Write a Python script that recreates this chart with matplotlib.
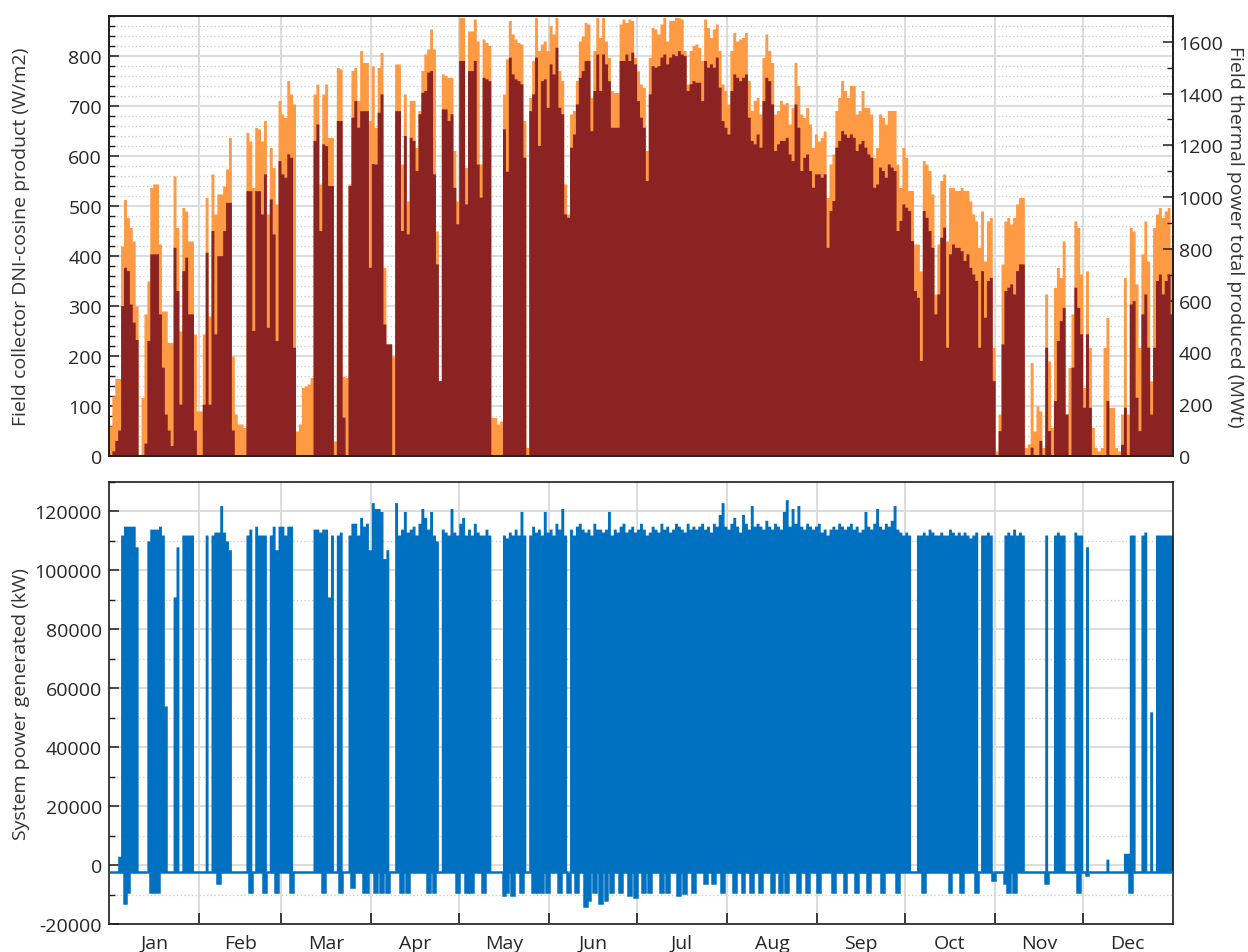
import numpy as np
import matplotlib
matplotlib.use("Agg")
import matplotlib.pyplot as plt
from matplotlib.ticker import MultipleLocator, FixedLocator, NullFormatter, FixedFormatter

plt.rcParams['font.family'] = ['Open Sans', 'DejaVu Sans']
plt.rcParams['axes.unicode_minus'] = False

# ---------------------------------------------------------------- data
months = ['Jan', 'Feb', 'Mar', 'Apr', 'May', 'Jun',
          'Jul', 'Aug', 'Sep', 'Oct', 'Nov', 'Dec']
month_start = [0, 31, 59, 90, 120, 151, 181, 212, 243, 273, 304, 334, 365]

# Daily peak of the field collector DNI-cosine product (W/m2)
dni_peak = [
    60, 120, 155, 155, 420, 513, 477, 457, 430, 300,
    0, 117, 284, 350, 537, 544, 544, 424, 290, 290,
    227, 227, 560, 457, 250, 497, 490, 430, 430, 244,
    90, 90, 244, 517, 280, 564, 484, 524, 524, 540,
    574, 637, 200, 84, 64, 64, 57, 647, 630, 537,
    657, 654, 630, 671, 484, 617, 577, 504, 711, 684,
    677, 751, 724, 704, 50, 64, 137, 140, 144, 157,
    724, 744, 544, 724, 744, 637, 637, 30, 777, 774,
    160, 157, 544, 771, 777, 711, 811, 787, 787, 671,
    780, 657, 777, 807, 377, 224, 224, 200, 784, 784,
    584, 724, 510, 711, 711, 617, 691, 771, 804, 814,
    854, 814, 450, 150, 764, 761, 757, 757, 611, 510,
    877, 877, 577, 850, 850, 874, 830, 584, 834, 827,
    821, 77, 77, 64, 70, 724, 794, 871, 844, 834,
    827, 824, 671, 17, 717, 791, 877, 811, 824, 830,
    811, 861, 844, 877, 771, 751, 544, 484, 684, 691,
    751, 830, 840, 867, 864, 717, 811, 877, 837, 877,
    830, 797, 731, 727, 727, 864, 874, 867, 874, 871,
    797, 770, 744, 737, 611, 797, 857, 854, 844, 864,
    877, 830, 871, 871, 877, 877, 874, 811, 744, 811,
    821, 824, 817, 791, 874, 857, 837, 854, 864, 811,
    744, 731, 704, 811, 847, 830, 834, 837, 847, 751,
    691, 711, 717, 684, 797, 844, 811, 787, 684, 691,
    711, 704, 707, 664, 697, 787, 741, 684, 677, 697,
    664, 617, 644, 630, 637, 650, 517, 584, 604, 691,
    717, 751, 731, 717, 741, 741, 684, 691, 731, 697,
    697, 684, 597, 617, 684, 677, 664, 691, 691, 691,
    584, 537, 617, 597, 531, 531, 424, 424, 370, 591,
    584, 571, 524, 324, 424, 551, 564, 430, 537, 537,
    531, 531, 537, 531, 531, 510, 484, 470, 417, 490,
    390, 470, 477, 217, 10, 84, 384, 470, 477, 464,
    477, 504, 517, 517, 17, 24, 187, 50, 100, 90,
    17, 324, 190, 57, 337, 377, 357, 430, 84, 177,
    284, 470, 457, 364, 137, 370, 217, 57, 17, 10,
    17, 217, 277, 97, 97, 17, 10, 84, 357, 84,
    457, 450, 344, 217, 404, 470, 390, 150, 457, 484,
    497, 477, 490, 497, 417,
]

# Daily peak of the field thermal power total produced (MWt)
thermal_peak = [
    0, 20, 60, 100, 581, 729, 716, 587, 517, 450,
    0, 0, 50, 446, 781, 781, 781, 549, 343, 162,
    100, 40, 806, 639, 200, 716, 768, 549, 549, 100,
    0, 0, 200, 787, 200, 871, 472, 774, 774, 871,
    980, 980, 100, 0, 0, 0, 0, 1025, 1025, 485,
    1025, 1025, 935, 1090, 497, 993, 858, 446, 1141, 1090,
    1077, 1167, 1154, 420, 0, 0, 0, 0, 0, 0,
    1219, 1283, 871, 1206, 1199, 1045, 1045, 0, 1296, 1296,
    150, 0, 1045, 1309, 1373, 1270, 1334, 1334, 1334, 729,
    1130, 1128, 1328, 1399, 510, 433, 433, 0, 1334, 1334,
    871, 1238, 858, 1231, 1219, 1103, 1322, 1405, 1412, 1483,
    1489, 1090, 742, 291, 1341, 1341, 1296, 1322, 1038, 897,
    1528, 1528, 974, 1489, 1489, 1528, 1128, 1000, 1463, 1457,
    1450, 0, 0, 0, 0, 1264, 1100, 1541, 1476, 1457,
    1450, 1438, 1154, 0, 1334, 1399, 1541, 1200, 1450, 1457,
    1347, 1515, 1476, 1579, 1347, 1322, 935, 922, 1193, 1244,
    1360, 1463, 1489, 1528, 1528, 1257, 1412, 1553, 1412, 1553,
    1515, 1450, 1270, 1270, 1270, 1528, 1528, 1553, 1528, 1560,
    1515, 1373, 1309, 1270, 1064, 1399, 1508, 1502, 1508, 1541,
    1553, 1515, 1541, 1553, 1547, 1566, 1553, 1547, 1412, 1438,
    1450, 1444, 1444, 1373, 1528, 1502, 1515, 1502, 1541, 1425,
    1296, 1270, 1244, 1412, 1476, 1463, 1450, 1463, 1476, 1309,
    1219, 1206, 1244, 1193, 1373, 1463, 1450, 1360, 1180, 1206,
    1219, 1219, 1231, 1167, 1141, 1360, 1270, 1103, 1154, 1167,
    1103, 1038, 1090, 1090, 1077, 1090, 806, 948, 987, 1193,
    1219, 1257, 1244, 1231, 1244, 1231, 1180, 1206, 1219, 1193,
    1167, 1154, 1038, 1051, 1116, 1103, 1077, 1128, 1116, 1103,
    871, 910, 974, 961, 948, 832, 639, 613, 369, 948,
    922, 871, 806, 549, 626, 845, 884, 420, 781, 819,
    806, 806, 793, 755, 781, 729, 703, 678, 420, 716,
    536, 678, 690, 291, 0, 98, 433, 639, 652, 665,
    626, 716, 742, 742, 0, 0, 34, 0, 0, 60,
    0, 420, 98, 0, 214, 446, 523, 574, 162, 0,
    343, 652, 574, 472, 188, 472, 188, 0, 0, 0,
    0, 0, 214, 0, 0, 0, 0, 45, 188, 0,
    587, 600, 227, 98, 549, 626, 420, 162, 420, 678,
    703, 626, 678, 703, 549,
]

# Daily maximum of the system power generated (kW)
power_max = [
    -2500, -2500, -2500, 3000, 112000, 115000, 115000, 115000, 115000, 108000,
    -2500, -2500, -2500, 110000, 114000, 114000, 114000, 115000, 112000, 54000,
    -2500, -2500, 91000, 108000, -2500, 112000, 112000, 112000, 112000, -2500,
    -2500, -2500, -2500, 112000, -2500, 112000, 113000, 113000, 122000, 113000,
    110000, 107000, -2500, -2500, -2500, -2500, -2500, 112000, 114000, -2500,
    115000, 112000, 112000, 112000, -2500, 112000, 115000, 107000, 115000, 115000,
    112000, 115000, 115000, -2500, -2500, -2500, -2500, -2500, -2500, -2500,
    114000, 114000, 113000, 114000, 114000, 91000, 112000, -2500, 112000, 113000,
    -2500, -2500, 112000, 116000, 116000, 112000, 118000, 115000, 116000, 107000,
    123000, 121000, 121000, 120000, 104000, 107000, -2500, -2500, 123000, 112000,
    114000, 120000, 113000, 114000, 115000, 112000, 116000, 121000, 118000, 114000,
    120000, 112000, 110000, -2500, 114000, 113000, 112000, 121000, 113000, 112000,
    116000, 118000, 112000, 114000, 112000, 116000, 113000, 112000, 112000, 114000,
    112000, -2500, -2500, -2500, -2500, 112000, 111000, 113000, 112000, 114000,
    112000, 120000, 112000, -2500, 112000, 115000, 113000, 114000, 112000, 120000,
    113000, 114000, 112000, 116000, 114000, 121000, 112000, -2500, 114000, 112000,
    115000, 116000, 114000, 113000, 114000, 112000, 116000, 114000, 114000, 113000,
    114000, 120000, 112000, 114000, 113000, 115000, 116000, 113000, 114000, 115000,
    113000, 114000, 116000, 114000, 112000, 113000, 115000, 114000, 113000, 116000,
    114000, 115000, 113000, 114000, 116000, 115000, 114000, 113000, 116000, 114000,
    115000, 114000, 115000, 116000, 114000, 115000, 113000, 116000, 115000, 119000,
    123000, 115000, 114000, 116000, 118000, 115000, 113000, 119000, 116000, 114000,
    122000, 115000, 116000, 115000, 114000, 117000, 115000, 114000, 116000, 115000,
    114000, 120000, 124000, 115000, 121000, 116000, 122000, 115000, 114000, 116000,
    115000, 114000, 115000, 116000, 113000, 114000, 112000, 114000, 115000, 114000,
    116000, 115000, 114000, 115000, 116000, 114000, 115000, 113000, 114000, 120000,
    115000, 114000, 116000, 121000, 115000, 114000, 116000, 115000, 117000, 122000,
    114000, 113000, 112000, 113000, 112000, -2500, -2500, 112000, 112000, 113000,
    112000, 114000, 113000, 112000, 112000, 113000, 112000, 112000, 114000, 113000,
    112000, 113000, 112000, 113000, 112000, 111000, 112000, 113000, -2500, 112000,
    112000, 113000, 112000, -2500, -2500, -2500, -2500, 112000, 113000, 112000,
    114000, 112000, 113000, 112000, -2500, -2500, -2500, -2500, -2500, -2500,
    -2500, 112000, -2500, -2500, 112000, 113000, 112000, 112000, -2500, -2500,
    -2500, 113000, 112000, 112000, -2500, 108000, -2500, -2500, -2500, -2500,
    -2500, -2500, 2000, -2500, -2500, -2500, -2500, -2500, 4000, 4000,
    112000, 112000, -2500, -2500, 112000, 113000, -2500, 52000, -2500, 112000,
    112000, 112000, 112000, 112000, 112000,
]

# Night-time parasitic load and the days whose start-up draws more (kW)
night_kw = -2500
dip_days = [
    5, 6, 14, 15, 16,
    37, 48, 53, 57, 62,
    73, 79, 83, 87, 88,
    91, 93, 95, 100, 102,
    109, 111, 119, 122, 124,
    128, 135, 136, 138, 141,
    145, 147, 148, 150, 154,
    157, 160, 163, 164, 166,
    168, 170, 172, 175, 178,
    180, 183, 185, 189, 191,
    195, 197, 200, 204, 207,
    210, 214, 217, 220, 223,
    227, 230, 232, 236, 239,
    243, 248, 252, 256, 260,
    265, 270, 279, 288, 292,
    297, 303, 307, 308, 310,
    321, 332, 335, 350,
]
dip_kw = [
    -13000, -9000, -9000, -9000, -9000,
    -6000, -9000, -9000, -9000, -9000,
    -9000, -9000, -7500, -9000, -9000,
    -9000, -9000, -9000, -9000, -9000,
    -9000, -9000, -9000, -9000, -9000,
    -9000, -10000, -9000, -10000, -9000,
    -9000, -9000, -9000, -9000, -9000,
    -9000, -9000, -14000, -12000, -9000,
    -13000, -12000, -9000, -9000, -10000,
    -11000, -9000, -9000, -9000, -9000,
    -10000, -9500, -9000, -6000, -6000,
    -9000, -9000, -9000, -9000, -9000,
    -9000, -9000, -9000, -9000, -9000,
    -9000, -9000, -9000, -9000, -9000,
    -9000, -9000, -9000, -9000, -9000,
    -9000, -5000, -6000, -9000, -9000,
    -6000, -9000, -3500, -9000,
]

# ---------------------------------------------------------------- styling
ORANGE = '#FF9A44'
DARKRED = '#8B2323'
BLUE = '#0070C0'
GRID_MAJOR = '#DCDCDC'
GRID_MINOR = '#C8C8C8'
TEXT = '#262626'
SPINE = '#1E1E1E'
TICK_FS = 14
LABEL_FS = 14

n_days = len(dni_peak)
edges = np.arange(n_days + 1)


def stepped(values):
    v = np.asarray(values, dtype=float)
    return np.append(v, v[-1])


power_min = np.full(n_days, float(night_kw))
power_min[np.array(dip_days)] = dip_kw

fig = plt.figure(figsize=(12.48, 9.53), dpi=100)
ax1 = fig.add_axes([0.0873, 0.5205, 0.8526, 0.4617])
ax2 = fig.add_axes([0.0873, 0.0294, 0.8526, 0.4638])

month_mid = [(a + b) / 2 for a, b in zip(month_start[:-1], month_start[1:])]


def style_axes(ax):
    ax.set_axisbelow(True)
    for sp in ax.spines.values():
        sp.set_color(SPINE)
        sp.set_linewidth(1.2)
    ax.set_xlim(0, n_days)
    ax.xaxis.set_major_locator(FixedLocator(month_start[1:-1]))
    ax.xaxis.set_major_formatter(NullFormatter())
    ax.grid(True, which='major', axis='both', color=GRID_MAJOR, lw=1.4)
    ax.grid(True, which='minor', axis='y', color=GRID_MINOR, lw=0.9,
            linestyle=(0, (1, 2)))
    ax.tick_params(axis='y', which='both', direction='in', labelsize=TICK_FS,
                   labelcolor=TEXT, color=SPINE, right=False, pad=5)
    ax.tick_params(axis='y', which='major', length=7, width=1.1)
    ax.tick_params(axis='y', which='minor', length=4, width=1.0)


# ---- top panel: collector DNI-cosine product and field thermal power
style_axes(ax1)
ax1.tick_params(axis='x', which='both', length=0)
ax1.set_ylim(0, 880)
ax1.yaxis.set_major_locator(MultipleLocator(100))
ax1.yaxis.set_minor_locator(MultipleLocator(20))
ax1.fill_between(edges, 0, stepped(dni_peak), step='post',
                 color=ORANGE, lw=0, zorder=2)
ax1.set_ylabel('Field collector DNI-cosine product (W/m2)',
               fontsize=LABEL_FS, color='#333333')
ax1.yaxis.set_label_coords(-0.074, 0.5)

ax1r = ax1.twinx()
ax1r.set_ylim(0, 1700)
ax1r.fill_between(edges, 0, stepped(thermal_peak), step='post',
                  color=DARKRED, lw=0, zorder=2)
ax1r.yaxis.set_major_locator(MultipleLocator(200))
ax1r.yaxis.set_minor_locator(MultipleLocator(100))
ax1r.tick_params(axis='y', which='both', direction='in', labelsize=TICK_FS,
                 labelcolor=TEXT, color=SPINE, pad=4)
ax1r.tick_params(axis='y', which='major', length=7, width=1.1)
ax1r.tick_params(axis='y', which='minor', length=4, width=1.0)
for sp in ax1r.spines.values():
    sp.set_color(SPINE)
    sp.set_linewidth(1.2)
ax1r.set_ylabel('Field thermal power total produced (MWt)',
                fontsize=LABEL_FS, color='#333333', rotation=270, va='bottom')
ax1r.yaxis.set_label_coords(1.050, 0.5)

# ---- bottom panel: system power generated
style_axes(ax2)
ax2.set_ylim(-20000, 130000)
ax2.yaxis.set_major_locator(MultipleLocator(20000))
ax2.yaxis.set_minor_locator(MultipleLocator(10000))
ax2.xaxis.set_minor_locator(FixedLocator(month_mid))
ax2.xaxis.set_minor_formatter(FixedFormatter(months))
ax2.tick_params(axis='x', which='major', direction='in', length=8,
                width=1.2, color=SPINE)
ax2.tick_params(axis='x', which='minor', length=0, labelsize=TICK_FS,
                labelcolor=TEXT, pad=7)
ax2.fill_between(edges, stepped(power_min), stepped(power_max), step='post',
                 color=BLUE, lw=0, zorder=2)
ax2.stairs(power_min, edges, baseline=None, color=BLUE, lw=1.8, zorder=3)
ax2.set_ylabel('System power generated (kW)', fontsize=LABEL_FS,
               color='#333333')
ax2.yaxis.set_label_coords(-0.074, 0.5)

fig.savefig('out.png', dpi=100)
